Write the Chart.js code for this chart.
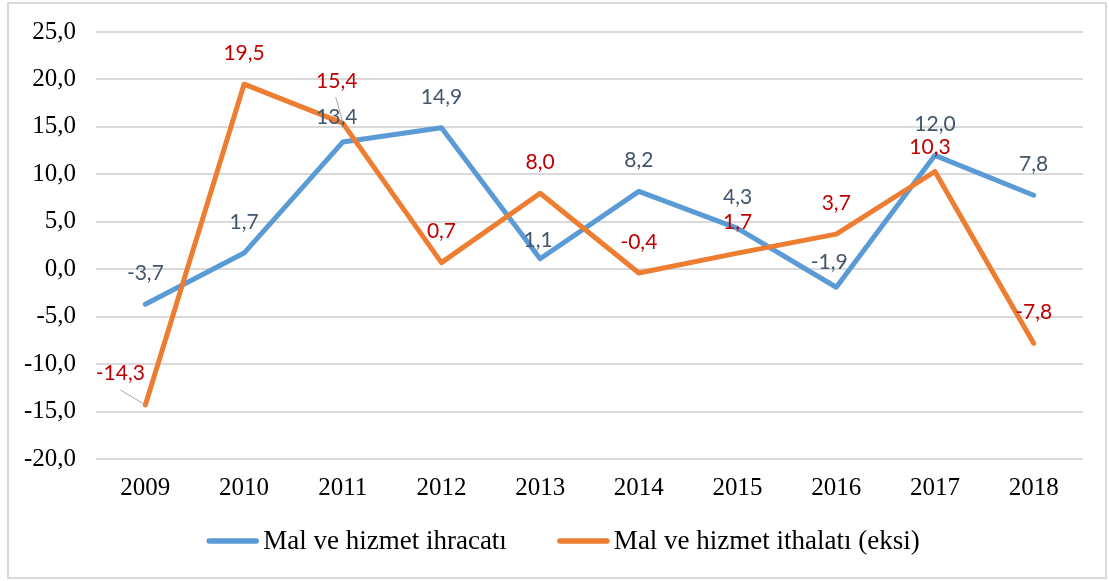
<!DOCTYPE html>
<html>
<head>
<meta charset="utf-8">
<script src="https://cdn.jsdelivr.net/npm/chart.js@4.4.1/dist/chart.umd.min.js"></script>
<style>
  html, body { margin: 0; padding: 0; background: #fff; }
  #wrap { width: 1109px; height: 581px; position: relative; }
</style>
</head>
<body>
<div id="wrap"><canvas id="chart"></canvas></div>
<script>
  // data
  const years = ["2009", "2010", "2011", "2012", "2013", "2014", "2015", "2016", "2017", "2018"];
  const exportsGrowth = [-3.7, 1.7, 13.4, 14.9, 1.1, 8.2, 4.3, -1.9, 12.0, 7.8];
  const importsGrowth = [-14.3, 19.5, 15.4, 0.7, 8.0, -0.4, 1.7, 3.7, 10.3, -7.8];
  const seriesNames = ["Mal ve hizmet ihracatı", "Mal ve hizmet ithalatı (eksi)"];

  const BLUE = "#5B9BD5", ORANGE = "#ED7D31";
  const SERIF = "'Liberation Serif', 'Times New Roman', serif";

  // label nudges (px) where Excel moved them off the default "above" spot
  const nudges = {
    "0-2": [-6, -25], "0-4": [-2, -19], "0-7": [-7, -25],
    "1-0": [-25, -32], "1-2": [-6, -42], "1-8": [-5, -24],
  };
  const leaders = {
    "1-0": [[-25, -15], [0, 0]],
    "1-2": [[-7, -26], [0, -1]],
  };

  const fmt = v => v.toFixed(1).replace(".", ",");

  const frame = {
    id: "frame",
    beforeDraw(chart) {
      const c = chart.ctx;
      c.save();
      c.fillStyle = "#fff";
      c.fillRect(0, 0, chart.width, chart.height);
      c.strokeStyle = "#D9D9D9";
      c.lineWidth = 2;
      c.strokeRect(8, 3, 1098, 575);
      c.restore();
    },
  };

  const valueLabels = {
    id: "valueLabels",
    afterDatasetsDraw(chart) {
      const c = chart.ctx;
      c.save();
      c.font = "21px Lato, 'Open Sans', sans-serif";
      c.textAlign = "center";
      c.textBaseline = "middle";
      chart.data.datasets.forEach((ds, di) => {
        const meta = chart.getDatasetMeta(di);
        meta.data.forEach((pt, i) => {
          const key = di + "-" + i;
          const [dx, dy] = nudges[key] || [0, -31];
          if (leaders[key]) {
            const [[x1, y1], [x2, y2]] = leaders[key];
            c.strokeStyle = "#A6A6A6";
            c.lineWidth = 1;
            c.beginPath();
            c.moveTo(pt.x + x1, pt.y + y1);
            c.lineTo(pt.x + x2, pt.y + y2);
            c.stroke();
          }
          c.fillStyle = di === 0 ? "#44546A" : "#C00000";
          c.fillText(fmt(ds.data[i]), pt.x + dx, pt.y + dy);
        });
      });
      c.restore();
    },
  };

  // Excel-style legend row under the axis
  const bottomLegend = {
    id: "bottomLegend",
    afterDraw(chart) {
      const c = chart.ctx;
      const sw = 53, gapText = 4, gapItem = 50, cy = 541, cx = 563;
      c.save();
      c.font = "27px " + SERIF;
      c.textBaseline = "middle";
      const items = chart.data.datasets.map(ds => ({ ds, w: c.measureText(ds.label).width }));
      const total = items.reduce((s, it) => s + sw + gapText + it.w, 0) + gapItem * (items.length - 1);
      let x = cx - total / 2;
      items.forEach(({ ds, w }) => {
        c.strokeStyle = ds.borderColor;
        c.lineWidth = 5.5;
        c.lineCap = "round";
        c.beginPath();
        c.moveTo(x + 3, cy);
        c.lineTo(x + sw - 3, cy);
        c.stroke();
        c.fillStyle = "#000";
        c.fillText(ds.label, x + sw + gapText, cy + 1);
        x += sw + gapText + w + gapItem;
      });
      c.restore();
    },
  };

  new Chart(document.getElementById("chart"), {
    type: "line",
    data: {
      labels: years,
      datasets: [
        {
          label: seriesNames[0],
          data: exportsGrowth,
          borderColor: BLUE,
          backgroundColor: BLUE,
          borderWidth: 5,
          pointRadius: 0,
          borderCapStyle: "round",
          borderJoinStyle: "round",
          tension: 0,
          order: 1,
        },
        {
          label: seriesNames[1],
          data: importsGrowth,
          borderColor: ORANGE,
          backgroundColor: ORANGE,
          borderWidth: 5,
          pointRadius: 0,
          borderCapStyle: "round",
          borderJoinStyle: "round",
          tension: 0,
          order: 0,
        },
      ],
    },
    options: {
      responsive: true,
      maintainAspectRatio: false,
      animation: false,
      events: [],
      layout: { padding: { left: 8, right: 26, top: 32, bottom: 64 } },
      plugins: {
        tooltip: { enabled: false },
        legend: { display: false },
      },
      scales: {
        x: {
          offset: true,
          grid: { display: false, drawTicks: false },
          border: { display: false },
          ticks: { color: "#000", font: { family: SERIF, size: 25 }, padding: 14, maxRotation: 0 },
        },
        y: {
          min: -20,
          max: 25,
          afterFit: s => { s.width = 88; s.paddingTop = 0; s.paddingBottom = 0; },
          grid: { color: "#D9D9D9", lineWidth: 2, drawTicks: false },
          border: { display: false },
          ticks: { stepSize: 5, color: "#000", font: { family: SERIF, size: 25 }, padding: 20, callback: v => fmt(v) },
        },
      },
    },
    plugins: [frame, valueLabels, bottomLegend],
  });
</script>
</body>
</html>
